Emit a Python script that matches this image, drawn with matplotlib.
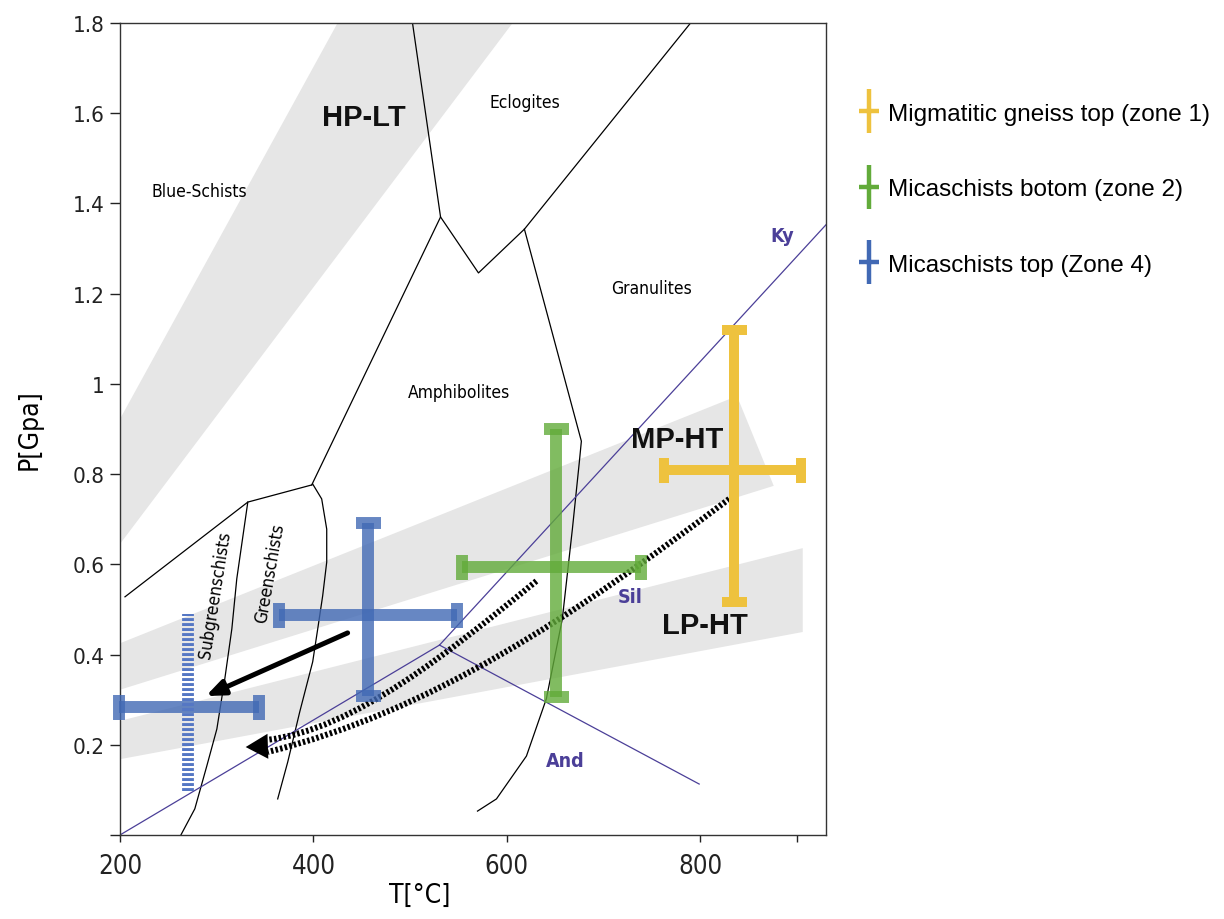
import numpy as np
import matplotlib.pyplot as plt
from matplotlib.path import Path
from matplotlib.patches import PathPatch
from matplotlib.lines import Line2D

plt.rcParams['lines.scale_dashes'] = False

NARROW = dict(family='DejaVu Sans', stretch='condensed')
ARIAL = ['Liberation Sans', 'DejaVu Sans']
PURPLE = '#4b3f98'

# grey P-T gradient fields (T in degC, P in GPa)
hplt_T = [425, 606, 200, 200]
hplt_P = [1.80, 1.80, 0.645, 0.922]
mpht_T = [200, 838, 876, 200]
mpht_P = [0.425, 0.973, 0.774, 0.322]
lpht_T = [200, 906, 906, 200]
lpht_P = [0.253, 0.636, 0.450, 0.168]

# facies boundaries
facies_lines = [
    ([502.5, 531.5, 398.3], [1.80, 1.370, 0.776]),
    ([531.5, 570.7, 618.2, 790], [1.370, 1.246, 1.343, 1.80]),
    ([618.2, 677.1, 675.0, 667.8, 657.4, 640.9, 620.3, 589.3, 569.7],
     [1.343, 0.873, 0.827, 0.678, 0.479, 0.302, 0.175, 0.080, 0.053]),
    ([398.3, 332.2, 205.2], [0.776, 0.738, 0.528]),
    ([399.3, 408.6, 413.8, 413.8, 409.6, 404.5, 399.3, 385.9, 373.5, 363.1],
     [0.778, 0.745, 0.678, 0.605, 0.530, 0.457, 0.384, 0.273, 0.162, 0.080]),
    ([332.2, 320.8, 315.7, 308.4, 300.2, 289.8, 277.4, 263.0],
     [0.738, 0.568, 0.457, 0.346, 0.235, 0.153, 0.058, 0.0]),
]

# Al2SiO5 triple point lines
tp = (530.4, 0.421)
ky_and = ([200, tp[0]], [0.0, tp[1]])
ky_sil = ([tp[0], 931], [tp[1], 1.355])
and_sil = ([tp[0], 798.9], [tp[1], 0.113])

# P-T estimates: centre, min, max
zone_T = [835, 651, 456]
zone_Tlo = [763, 554, 364]
zone_Thi = [904, 739, 549]
zone_P = [0.81, 0.594, 0.488]
zone_Plo = [0.517, 0.306, 0.308]
zone_Phi = [1.12, 0.90, 0.692]
zone_colors = ['#eec23e', '#62ab3a', '#4169b4']
zone_alpha = [1.0, 0.8, 0.8]
zone_bar = [7.2, 8.6, 8.6]

# retrograde estimate of zone 4
ret_T, ret_Tlo, ret_Thi = 270, 199, 343.5
ret_P, ret_Plo, ret_Phi = 0.284, 0.098, 0.490

# arrows
arrow_tail = (435.4, 0.448)
arrow_tip = (288.8, 0.308)
dotted_curves = [
    [(630.6, 0.563), (537.7, 0.401), (442.7, 0.235), (352.8, 0.211)],
    [(829.9, 0.745), (664.7, 0.479), (522.2, 0.275), (352.8, 0.184)],
]
dotted_tip = (330.0, 0.195)
dotted_base = (358.0, 0.197)

legend_labels = ['Migmatitic gneiss top (zone 1)', 'Micaschists botom (zone 2)',
                 'Micaschists top (Zone 4)']

fig = plt.figure(figsize=(12.24, 9.2), dpi=100)
ax = fig.add_axes([0.098, 0.0913, 0.5768, 0.8826])
ax.set_xlim(200, 930)
ax.set_ylim(0, 1.8)

for T, P in [(hplt_T, hplt_P), (mpht_T, mpht_P), (lpht_T, lpht_P)]:
    ax.fill(T, P, color='#e6e6e6', lw=0, zorder=0)

for T, P in facies_lines:
    ax.plot(T, P, color='k', lw=0.9, zorder=1)
for T, P in [ky_and, ky_sil, and_sil]:
    ax.plot(T, P, color=PURPLE, lw=0.9, zorder=1)

# dotted exhumation paths
codes = [Path.MOVETO, Path.CURVE4, Path.CURVE4, Path.CURVE4]
for pts in dotted_curves:
    ax.add_patch(PathPatch(Path(pts, codes), fc='none', ec='k', lw=4.3,
                           linestyle=(0, (1.8, 1.6)), zorder=2))
ax.annotate('', xy=dotted_tip, xytext=dotted_base,
            arrowprops=dict(arrowstyle='-|>,head_length=1.6,head_width=0.9',
                            lw=0, color='k', shrinkA=0, shrinkB=0), zorder=4)

# crosses
for i in range(3):
    T, P = zone_T[i], zone_P[i]
    ax.errorbar(T, P, xerr=[[T - zone_Tlo[i]], [zone_Thi[i] - T]],
                yerr=[[P - zone_Plo[i]], [zone_Phi[i] - P]], fmt='none',
                ecolor=zone_colors[i], elinewidth=zone_bar[i], capsize=9,
                capthick=zone_bar[i], alpha=zone_alpha[i], zorder=3, clip_on=False)
ax.errorbar(ret_T, ret_P, xerr=[[ret_T - ret_Tlo], [ret_Thi - ret_T]], fmt='none',
            ecolor=zone_colors[2], elinewidth=8.6, capsize=9, capthick=8.6,
            alpha=0.8, zorder=3, clip_on=False)
ax.plot([ret_T, ret_T], [ret_Plo, ret_Phi], color='#5577c4', lw=8.5,
        dashes=(2.1, 1.5), solid_capstyle='butt', dash_capstyle='butt', zorder=3)

ax.annotate('', xy=arrow_tip, xytext=arrow_tail,
            arrowprops=dict(arrowstyle='-|>,head_length=1.1,head_width=0.45',
                            lw=3.6, color='k', shrinkA=0, shrinkB=0), zorder=4)

# labels
for s, T, P in [('Blue-Schists', 281.6, 1.428), ('Eclogites', 618.4, 1.625),
                ('Granulites', 749.6, 1.213), ('Amphibolites', 550.2, 0.982)]:
    ax.text(T, P, s, fontsize=12.5, ha='center', va='center', **NARROW)
ax.text(298, 0.534, 'Subgreenschists', fontsize=12.5, rotation=81,
        ha='center', va='center', **NARROW)
ax.text(355, 0.583, 'Greenschists', fontsize=12.5, rotation=80,
        ha='center', va='center', **NARROW)
for s, T, P in [('HP-LT', 452, 1.592), ('MP-HT', 776.4, 0.878), ('LP-HT', 805.3, 0.466)]:
    ax.text(T, P, s, fontsize=21, family=ARIAL, weight='bold', ha='center',
            va='center', color='#111111')
for s, T, P in [('Ky', 884.9, 1.328), ('Sil', 727.9, 0.528), ('And', 660.7, 0.166)]:
    ax.text(T, P, s, fontsize=14, weight='bold', ha='center',
            va='center', color=PURPLE, **NARROW)

# axes styling
ax.set_xticks([200, 400, 600, 800, 900])
ax.set_xticklabels(['200', '400', '600', '800', ''], fontsize=18.5, **NARROW)
ax.set_yticks(np.arange(0, 1.81, 0.2))
ax.set_yticklabels(['', '0.2', '0.4', '0.6', '0.8', '1', '1.2', '1.4', '1.6', '1.8'],
                   fontsize=16, **NARROW)
ax.tick_params(axis='x', direction='out', length=5, width=1, pad=8, colors='#222222')
ax.tick_params(axis='y', direction='out', length=7, width=1, pad=4, colors='#222222')
for sp in ax.spines.values():
    sp.set_color('#333333')
    sp.set_linewidth(1)

ax.set_xlabel('T[°C]', fontsize=19, **NARROW)
ax.xaxis.set_label_coords(0.425, -0.058)
ax.set_ylabel('P[Gpa]', fontsize=19, **NARROW)
ax.yaxis.set_label_coords(-0.11, 0.5)

cross = Path([(-0.45, 0), (0.45, 0), (0, -1), (0, 1)],
             [Path.MOVETO, Path.LINETO, Path.MOVETO, Path.LINETO])
handles = [Line2D([], [], ls='none', marker=cross, markersize=31, mew=3.2, color=c)
           for c in zone_colors]
fig.legend(handles, legend_labels, loc='upper left', bbox_to_anchor=(0.700, 0.887),
           frameon=False, labelspacing=2.2, handlelength=1.0,
           handletextpad=0.3, borderpad=0, borderaxespad=0,
           prop={'family': ARIAL, 'size': 17.5})

fig.savefig('out.png', dpi=100)
